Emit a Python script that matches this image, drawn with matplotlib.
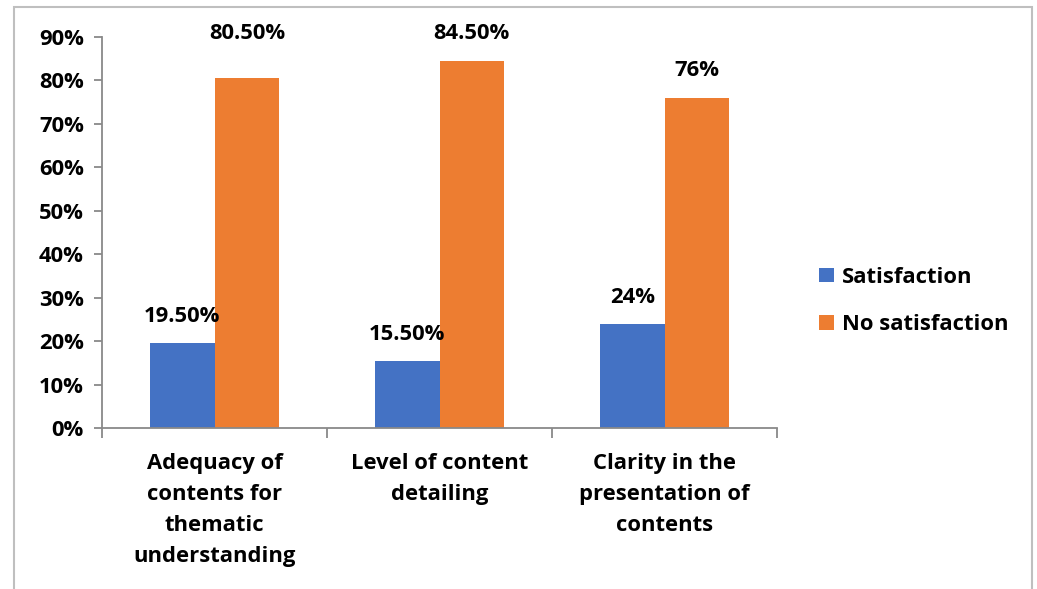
import numpy as np
import matplotlib.pyplot as plt
from matplotlib.patches import Rectangle
from matplotlib.ticker import PercentFormatter, FixedLocator

# ── Data ────────────────────────────────────────────────────────────────
CATEGORIES = ['Adequacy of\ncontents for\nthematic\nunderstanding',
              'Level of content\ndetailing',
              'Clarity in the\npresentation of\ncontents']
SATISFACTION = [19.5, 15.5, 24.0]
NO_SATISFACTION = [80.5, 84.5, 76.0]
SAT_LABELS = ['19.50%', '15.50%', '24%']
NOSAT_LABELS = ['80.50%', '84.50%', '76%']
YTICKS = [0, 10, 20, 30, 40, 50, 60, 70, 80, 90]

BLUE = '#4472C4'
ORANGE = '#ED7D31'
AXIS_GREY = '#898989'
FS = 15.8

plt.rcParams['font.family'] = ['Open Sans', 'DejaVu Sans']
plt.rcParams['font.weight'] = 'bold'

fig = plt.figure(figsize=(10.37, 5.89), dpi=100)
ax = fig.add_axes([0.0984, 0.2733, 0.6509, 0.6639])

x = np.arange(len(CATEGORIES))
w = 0.287
b1 = ax.bar(x - w / 2, SATISFACTION, w, color=BLUE, label='Satisfaction')
b2 = ax.bar(x + w / 2, NO_SATISFACTION, w, color=ORANGE, label='No satisfaction')

# data labels (the first orange label sits higher in the original)
nosat_offsets = [32, 20, 20]
for rect, txt in zip(b1, SAT_LABELS):
    ax.annotate(txt, (rect.get_x() + rect.get_width() / 2, rect.get_height()),
                xytext=(0, 19), textcoords='offset points', ha='center',
                va='center', fontsize=FS, fontweight='bold')
for rect, txt, off in zip(b2, NOSAT_LABELS, nosat_offsets):
    ax.annotate(txt, (rect.get_x() + rect.get_width() / 2, rect.get_height()),
                xytext=(0, off), textcoords='offset points', ha='center',
                va='center', fontsize=FS, fontweight='bold')

ax.set_xlim(-0.5, len(CATEGORIES) - 0.5)
ax.set_ylim(0, 90)
ax.yaxis.set_major_locator(FixedLocator(YTICKS))
ax.yaxis.set_major_formatter(PercentFormatter(decimals=0))
ax.set_xticks(x)
ax.set_xticklabels(CATEGORIES, fontsize=FS, fontweight='bold', linespacing=1.62)
ax.xaxis.set_minor_locator(FixedLocator(np.arange(-0.5, len(CATEGORIES), 1.0)))
ax.tick_params(axis='x', which='major', length=0, pad=18)
ax.tick_params(axis='x', which='minor', length=7, color=AXIS_GREY, width=1.3)
ax.tick_params(axis='y', length=6, color=AXIS_GREY, width=1.3, labelsize=FS, pad=7)
for lbl in ax.get_yticklabels():
    lbl.set_fontweight('bold')

for s in ['top', 'right']:
    ax.spines[s].set_visible(False)
for s in ['left', 'bottom']:
    ax.spines[s].set_color(AXIS_GREY)
    ax.spines[s].set_linewidth(1.3)

ax.legend(loc='center left', bbox_to_anchor=(0.771, 0.489), bbox_transform=fig.transFigure,
          frameon=False, handlelength=0.65, handleheight=0.65,
          handletextpad=0.4, labelspacing=1.2, prop={'weight': 'bold', 'size': FS})

# chart border
fig.patches.append(Rectangle((14 / 1037, -0.05), 1018 / 1037, 1.05 - 7 / 589,
                             transform=fig.transFigure, fill=False,
                             edgecolor='#BFBFBF', linewidth=1.5, clip_on=False))

fig.savefig('out.png', dpi=100)
